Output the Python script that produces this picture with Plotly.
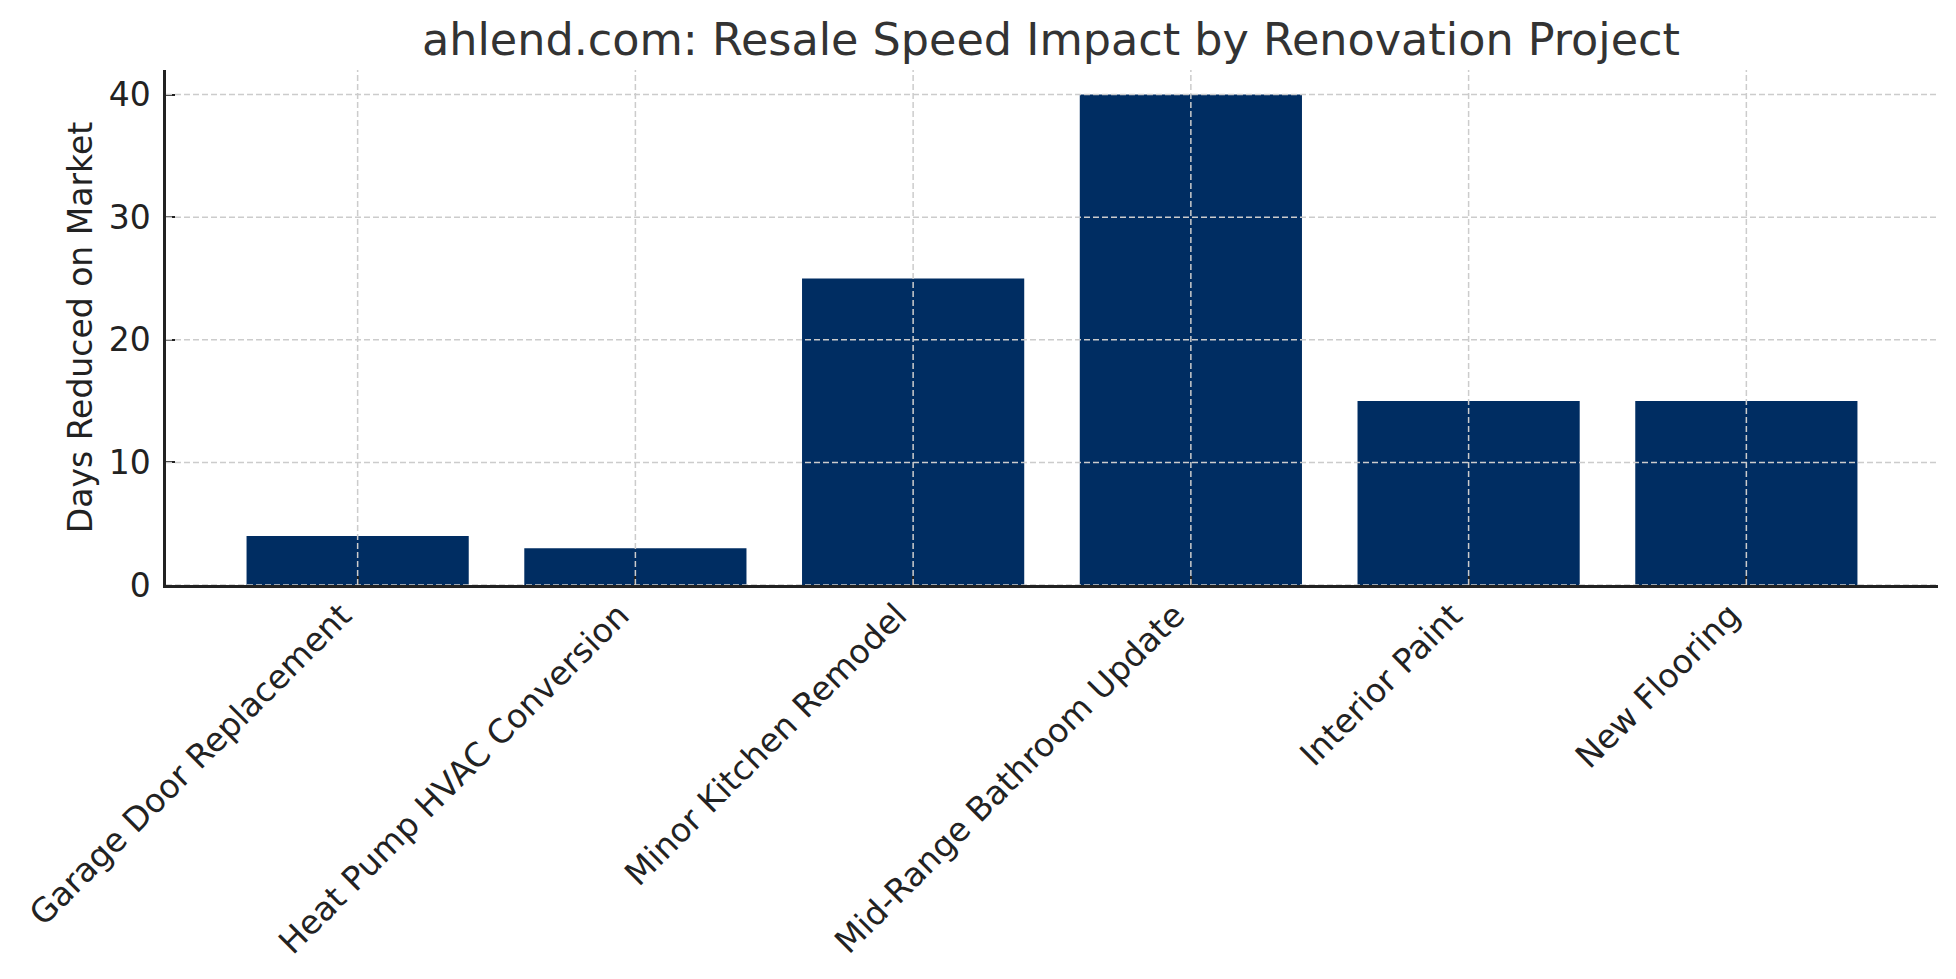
import plotly.graph_objects as go

projects = [
    "Garage Door Replacement",
    "Heat Pump HVAC Conversion",
    "Minor Kitchen Remodel",
    "Mid-Range Bathroom Update",
    "Interior Paint",
    "New Flooring",
]
days_reduced = [4, 3, 25, 40, 15, 15]
y_ticks = [0, 10, 20, 30, 40]

title_text = "ahlend.com: Resale Speed Impact by Renovation Project"
y_label = "Days Reduced on Market"

BAR_COLOR = "#002d62"
GRID_COLOR = "#cccccc"
AXIS_COLOR = "#222222"
FONT = "DejaVu Sans"
TICK_SIZE = 33

fig = go.Figure()
fig.add_trace(go.Bar(
    x=list(range(len(projects))),
    y=days_reduced,
    width=0.8,
    marker=dict(color=BAR_COLOR, line=dict(width=0)),
    hoverinfo="x+y",
))

# gridlines drawn above bars (as in the reference)
shapes = []
for t in y_ticks:
    shapes.append(dict(type="line", xref="paper", yref="y", x0=0, x1=1, y0=t, y1=t,
                       line=dict(color=GRID_COLOR, width=1.5, dash="6px,3px"), layer="above"))
for i in range(len(projects)):
    shapes.append(dict(type="line", xref="x", yref="paper", x0=i, x1=i, y0=0, y1=1,
                       line=dict(color=GRID_COLOR, width=1.5, dash="6px,3px"), layer="above"))

fig.update_layout(
    width=1956, height=979,
    margin=dict(l=158, r=26, t=62, b=402),
    paper_bgcolor="white", plot_bgcolor="white",
    font=dict(family=FONT, size=TICK_SIZE, color=AXIS_COLOR),
    title=dict(text=title_text, x=1043 / 1956, xanchor="center", xref="container",
               y=1 - 31 / 979, yanchor="middle", yref="container",
               font=dict(family=FONT, size=44.5, color="#333333")),
    showlegend=False,
    bargap=0.2,
    shapes=shapes,
)
fig.update_xaxes(
    range=[-0.69, len(projects) - 1 + 0.69],
    tickmode="array", tickvals=list(range(len(projects))), ticktext=projects,
    tickangle=-45,
    showgrid=False, zeroline=False,
    showline=True, linecolor=AXIS_COLOR, linewidth=2.5,
    ticks="inside", ticklen=9, tickwidth=2, tickcolor=AXIS_COLOR,
    tickfont=dict(family=FONT, size=TICK_SIZE, color=AXIS_COLOR),
    ticklabelshift=-16, ticklabelstandoff=-5,
    layer="above traces",
)
fig.update_yaxes(
    range=[0, 42],
    tickmode="array", tickvals=y_ticks,
    showgrid=False, zeroline=False,
    showline=True, linecolor=AXIS_COLOR, linewidth=2.5,
    ticks="inside", ticklen=9, tickwidth=2, tickcolor=AXIS_COLOR,
    tickfont=dict(family=FONT, size=TICK_SIZE, color=AXIS_COLOR),
    ticklabelstandoff=6,
    title=dict(text=y_label, font=dict(family=FONT, size=TICK_SIZE, color=AXIS_COLOR), standoff=7),
    layer="above traces",
)

fig.write_html("out.html")
